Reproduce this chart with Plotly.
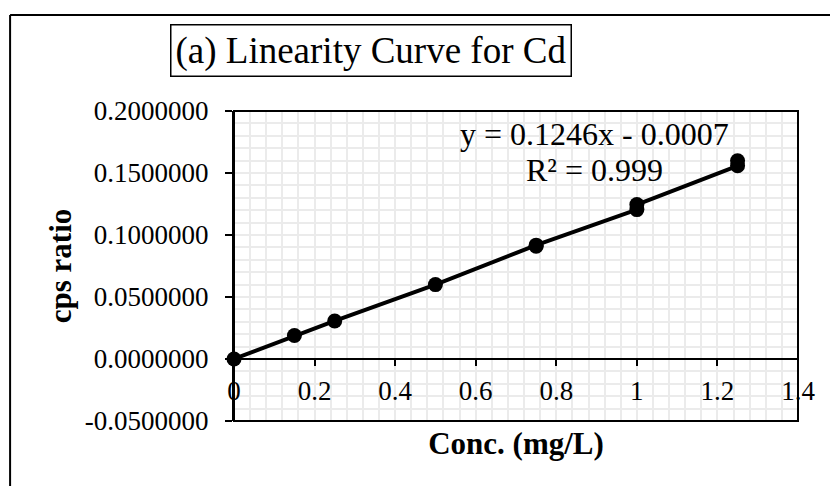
import plotly.graph_objects as go

# ---- data ----
conc = [0.0, 0.15, 0.25, 0.50, 0.75, 0.75, 1.00, 1.00, 1.25, 1.25]
cps_ratio = [0.0000, 0.0189, 0.0307, 0.0600, 0.0910, 0.0918, 0.1205, 0.1245, 0.1558, 0.1598]

x_ticks = [0, 0.2, 0.4, 0.6, 0.8, 1.0, 1.2, 1.4]
x_ticklabels = ["0", "0.2", "0.4", "0.6", "0.8", "1", "1.2", "1.4"]
y_ticks = [-0.05, 0.0, 0.05, 0.10, 0.15, 0.20]
y_ticklabels = [f"{v:.7f}" for v in y_ticks]

title_text = "(a) Linearity Curve for Cd"
eq_text = "y = 0.1246x - 0.0007"
r2_text = "R² = 0.999"
x_title = "Conc. (mg/L)"
y_title = "cps ratio"

FONT = "Liberation Serif, Times New Roman, serif"
GRID = "#ebebeb"

fig = go.Figure()
fig.add_trace(go.Scatter(
    x=conc, y=cps_ratio, mode="lines+markers",
    line=dict(color="black", width=4),
    marker=dict(color="black", size=15),
    showlegend=False, cliponaxis=False,
))

fig.update_layout(
    width=830, height=486,
    margin=dict(l=234, r=32, t=111, b=65),
    paper_bgcolor="white", plot_bgcolor="white",
    font=dict(family=FONT, color="black"),
    xaxis=dict(
        range=[0, 1.4], tickvals=x_ticks, ticktext=x_ticklabels,
        anchor="free", position=0.2,
        showline=True, linecolor="black", linewidth=2,
        ticks="outside", ticklen=6, tickwidth=1.5, tickcolor="black",
        tickfont=dict(size=27, family=FONT), ticklabelstandoff=2,
        showgrid=True, gridcolor=GRID, gridwidth=1.5,
        minor=dict(dtick=0.04, showgrid=True, gridcolor=GRID, gridwidth=1.5),
        zeroline=False, automargin=False,
        title=dict(text=f"<b>{x_title}</b>", font=dict(size=31, family=FONT), standoff=26),
    ),
    yaxis=dict(
        range=[-0.05, 0.2], tickvals=y_ticks, ticktext=y_ticklabels,
        domain=[0, 1],
        showline=True, linecolor="black", linewidth=2,
        ticks="outside", ticklen=7, tickwidth=1.5, tickcolor="black",
        tickfont=dict(size=27, family=FONT), ticklabelstandoff=11,
        showgrid=True, gridcolor=GRID, gridwidth=1.5,
        minor=dict(dtick=0.01, showgrid=True, gridcolor=GRID, gridwidth=1.5),
        zeroline=False, automargin=False,
        title=dict(text=f"<b>{y_title}</b>", font=dict(size=31, family=FONT), standoff=4),
    ),
    shapes=[
        # plot-area frame
        dict(type="rect", xref="x domain", yref="y domain", x0=0, x1=1, y0=0, y1=1,
             line=dict(color="black", width=2), layer="above"),
        # outer chart border: left and top edges (the rest lies outside the window)
        dict(type="line", xref="paper", yref="paper", x0=-0.397, x1=-0.397, y0=-0.5, y1=1.31,
             line=dict(color="black", width=2)),
        dict(type="line", xref="paper", yref="paper", x0=-0.397, x1=1.3, y0=1.31, y1=1.31,
             line=dict(color="black", width=2)),
    ],
    annotations=[
        dict(text=title_text, xref="paper", yref="paper", x=0.2425, y=(421 - 51) / 310,
             xanchor="center", yanchor="middle", showarrow=False,
             font=dict(size=37, family=FONT), bordercolor="black", borderwidth=1.5,
             borderpad=4, bgcolor="white"),
        dict(text=eq_text, xref="paper", yref="paper", x=0.640, y=(421 - 134) / 310,
             xanchor="center", yanchor="middle", showarrow=False,
             font=dict(size=32, family=FONT)),
        dict(text=r2_text, xref="paper", yref="paper", x=0.640, y=(421 - 170) / 310,
             xanchor="center", yanchor="middle", showarrow=False,
             font=dict(size=32, family=FONT)),
    ],
)

fig.write_html("out.html")
